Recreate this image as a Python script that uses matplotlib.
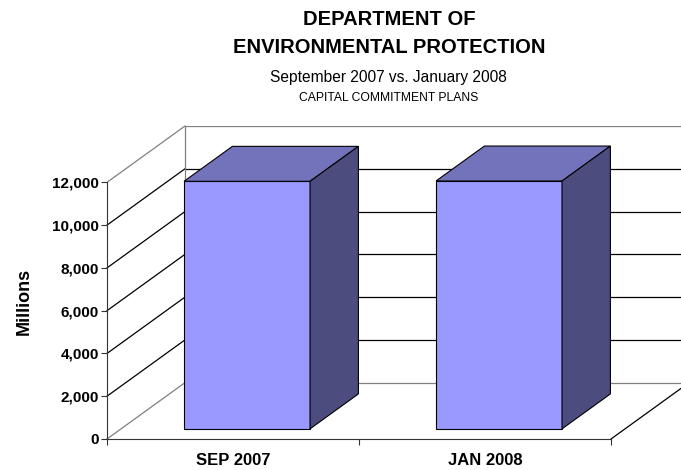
import matplotlib
matplotlib.use("Agg")
import matplotlib.pyplot as plt
from matplotlib.patches import Polygon

plt.rcParams['font.family'] = ['Liberation Sans', 'DejaVu Sans']

categories = ['SEP 2007', 'JAN 2008']
values = [11575, 11590]
yticks = [0, 2000, 4000, 6000, 8000, 10000, 12000]
ytick_labels = ['0', '2,000', '4,000', '6,000', '8,000', '10,000', '12,000']

# fake 3d depth (in data units) and bar layout
ddx = 0.3095
ddy = 2635
z0, z1 = 0.18, 0.80
half_w = 0.25
ymax = 12000

front_col = '#9999ff'
top_col = '#7373bb'
side_col = '#4c4c7e'
wall_col = '#808080'

fig = plt.figure(figsize=(6.81, 4.70), dpi=100)
ax = fig.add_axes([107 / 681, 31 / 470, 574 / 681, 313 / 470])
ax.set_xlim(0, 574 / 252)
ax.set_ylim(0, ymax + ddy)

n = len(categories)

# walls: back wall grid lines + left wall diagonals
for v in yticks:
    c = wall_col if v in (0, ymax) else 'black'
    ax.plot([ddx, n + ddx + 1], [v + ddy, v + ddy], color=c, lw=0.9, zorder=1)
    ax.plot([0, ddx], [v, v + ddy], color=c, lw=0.9, zorder=1, clip_on=False)
ax.plot([ddx, ddx], [ddy, ymax + ddy], color=wall_col, lw=0.9, zorder=1)
# right edge of floor
ax.plot([n, n + ddx], [0, ddy], color='black', lw=0.9, zorder=1)

# bars
for i, v in enumerate(values):
    c = i + 0.5
    xl, xr = c - half_w, c + half_w
    ax.bar(c + z0 * ddx, v, bottom=z0 * ddy, width=2 * half_w, color=front_col,
           edgecolor='black', linewidth=0.8, zorder=3)
    top = [(xl + z0 * ddx, v + z0 * ddy), (xr + z0 * ddx, v + z0 * ddy),
           (xr + z1 * ddx, v + z1 * ddy), (xl + z1 * ddx, v + z1 * ddy)]
    side = [(xr + z0 * ddx, z0 * ddy), (xr + z1 * ddx, z1 * ddy),
            (xr + z1 * ddx, v + z1 * ddy), (xr + z0 * ddx, v + z0 * ddy)]
    ax.add_patch(Polygon(top, closed=True, facecolor=top_col, edgecolor='black', lw=0.8, zorder=3))
    ax.add_patch(Polygon(side, closed=True, facecolor=side_col, edgecolor='black', lw=0.8, zorder=3))

for s in ['top', 'right']:
    ax.spines[s].set_visible(False)
ax.spines['left'].set_bounds(0, ymax)
ax.spines['bottom'].set_bounds(0, n)
ax.spines['left'].set_color('#333333')
ax.spines['bottom'].set_color('#333333')
ax.spines['left'].set_zorder(4)

ax.set_yticks(yticks)
ax.set_yticklabels(ytick_labels, fontsize=11, fontweight='bold')
ax.tick_params(axis='y', length=4, pad=2, color='#333333')

ax.set_xticks(range(n + 1))
ax.set_xticklabels([''] * (n + 1))
ax.set_xticks([i + 0.5 for i in range(n)], minor=True)
ax.set_xticklabels(categories, minor=True, fontsize=12, fontweight='bold')
ax.tick_params(axis='x', which='major', length=4, color='#333333')
ax.tick_params(axis='x', which='minor', length=0, pad=10)

ax.set_ylabel('Millions', fontsize=13, fontweight='bold')
ax.yaxis.set_label_coords(-0.13, 0.44)

fig.text(0.571, 0.958, 'DEPARTMENT OF', ha='center', va='center', fontsize=14.5, fontweight='bold')
fig.text(0.571, 0.898, 'ENVIRONMENTAL PROTECTION', ha='center', va='center', fontsize=14.5, fontweight='bold')
fig.text(0.571, 0.836, 'September 2007 vs. January 2008', ha='center', va='center', fontsize=11.2)
fig.text(0.571, 0.791, 'CAPITAL COMMITMENT PLANS', ha='center', va='center', fontsize=8.7)

fig.savefig('out.png', dpi=100)
